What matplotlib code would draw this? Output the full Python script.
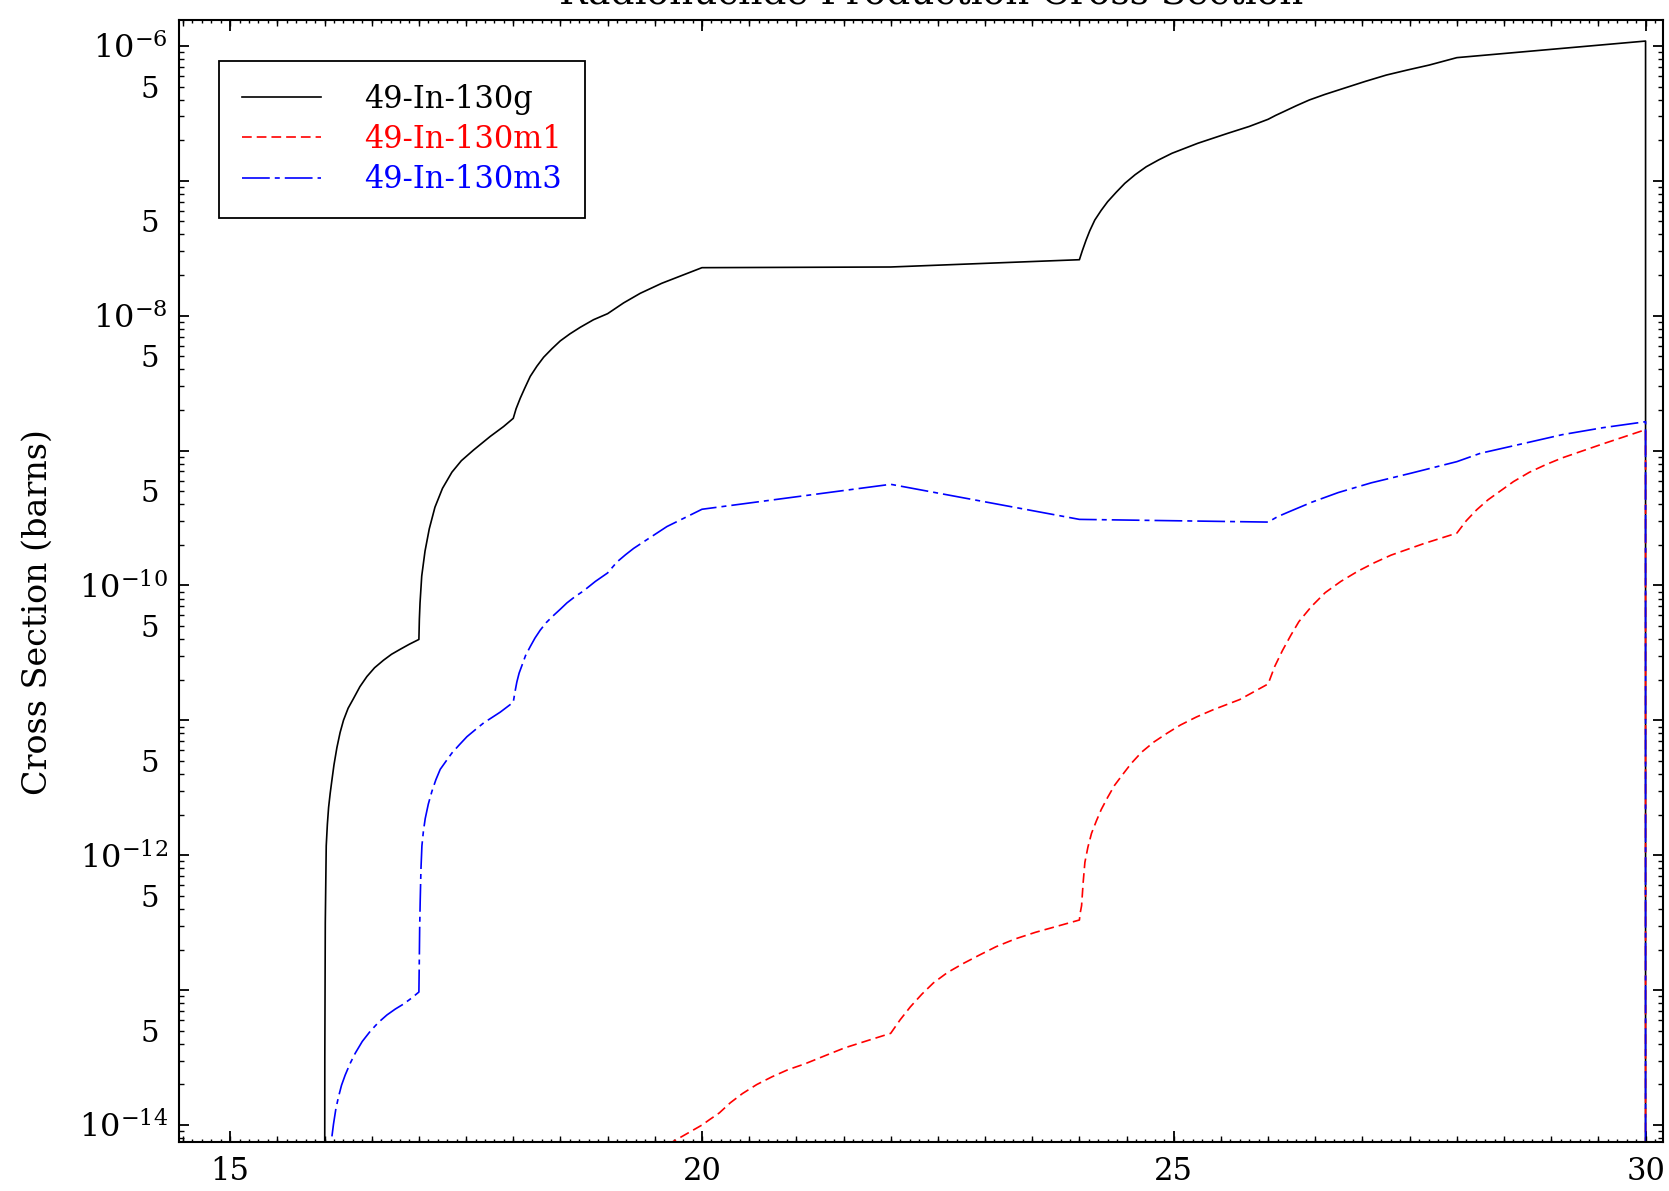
import numpy as np
import matplotlib
matplotlib.use('Agg')
import matplotlib.pyplot as plt
from matplotlib.ticker import FixedLocator, FuncFormatter, MultipleLocator

# incident energy (MeV) and log10 of cross section (barns)
g_x = [16.0, 16.003, 16.008, 16.018, 16.03, 16.043, 16.06, 16.078, 16.1, 16.131, 16.165, 16.201,
       16.25, 16.307, 16.375, 16.449, 16.53, 16.625, 16.71, 16.802, 16.9, 17.0,
       17.005, 17.012, 17.03, 17.065, 17.11, 17.17, 17.25, 17.35, 17.45, 17.579, 17.756, 17.897, 18.0,
       18.03, 18.074, 18.12, 18.18, 18.25, 18.322, 18.41, 18.498, 18.6, 18.71, 18.85, 19.0,
       19.17, 19.346, 19.573, 19.801, 20.0, 22.0, 24.0,
       24.03, 24.071, 24.11, 24.163, 24.23, 24.299, 24.39, 24.481, 24.59, 24.708, 24.84, 24.981,
       25.254, 25.572, 25.8, 26.0,
       26.08, 26.163, 26.3, 26.436, 26.6, 26.799, 27.03, 27.253, 27.48, 27.707, 28.0, 30.0, 30.0]
g_log = [-16.0, -13.5, -12.5, -11.93, -11.77, -11.646, -11.54, -11.444, -11.33, -11.202, -11.09, -10.999,
         -10.91, -10.838, -10.75, -10.675, -10.61, -10.554, -10.51, -10.473, -10.435, -10.40,
         -10.25, -10.13, -9.93, -9.745, -9.58, -9.42, -9.28, -9.16, -9.075, -8.996, -8.895, -8.822, -8.761,
         -8.69, -8.612, -8.54, -8.45, -8.375, -8.308, -8.245, -8.187, -8.135, -8.086, -8.03, -7.985,
         -7.905, -7.834, -7.76, -7.698, -7.644, -7.639, -7.585,
         -7.52, -7.439, -7.37, -7.291, -7.22, -7.155, -7.085, -7.019, -6.955, -6.896, -6.845, -6.796,
         -6.722, -6.648, -6.597, -6.544,
         -6.515, -6.488, -6.443, -6.401, -6.36, -6.315, -6.263, -6.216, -6.178, -6.142, -6.087, -5.964, -16.0]

m1_x = [19.5, 20.0, 20.08, 20.184, 20.3, 20.428, 20.58, 20.743, 20.91, 21.092, 21.3, 21.511, 21.75, 22.0,
        22.1, 22.208, 22.33, 22.453, 22.6, 22.767, 22.94, 23.116, 23.32, 23.535, 23.77, 24.0,
        24.008, 24.023, 24.04, 24.058, 24.09, 24.128, 24.18, 24.232, 24.3, 24.372, 24.46, 24.547,
        24.66, 24.79, 24.93, 25.069, 25.24, 25.418, 25.698, 26.0,
        26.07, 26.152, 26.24, 26.326, 26.46, 26.605, 26.77, 26.954, 27.13, 27.303, 27.652, 28.0,
        28.1, 28.21, 28.33, 28.454, 28.6, 28.768, 28.94, 29.117, 29.536, 30.0, 30.0]
m1_log = [-14.2, -14.0, -13.96, -13.91, -13.835, -13.767, -13.70, -13.642, -13.59, -13.546, -13.487, -13.428, -13.375, -13.32,
          -13.22, -13.124, -13.03, -12.946, -12.87, -12.803, -12.74, -12.678, -12.62, -12.571, -12.525, -12.48,
          -12.43, -12.374, -12.2, -12.053, -11.94, -11.838, -11.745, -11.66, -11.57, -11.482, -11.4, -11.321,
          -11.235, -11.16, -11.095, -11.035, -10.975, -10.921, -10.846, -10.73,
          -10.6, -10.482, -10.37, -10.268, -10.155, -10.053, -9.97, -9.893, -9.83, -9.775, -9.689, -9.612,
          -9.52, -9.439, -9.365, -9.303, -9.23, -9.161, -9.105, -9.054, -8.953, -8.845, -16.0]

m3_x = [16.04, 16.07, 16.095, 16.12, 16.148, 16.18, 16.219, 16.27, 16.325, 16.4, 16.484, 16.57,
        16.661, 16.75, 16.837, 16.92, 17.0,
        17.004, 17.008, 17.014, 17.022, 17.032, 17.048, 17.067, 17.1, 17.138, 17.18, 17.226, 17.29,
        17.35, 17.43, 17.509, 17.6, 17.686, 17.862, 18.0,
        18.018, 18.038, 18.062, 18.091, 18.13, 18.18, 18.23, 18.286, 18.35, 18.427, 18.5, 18.569,
        18.65, 18.745, 18.87, 19.0,
        19.099, 19.19, 19.276, 19.452, 19.629, 19.806, 20.0, 22.0, 24.0, 26.0,
        26.1, 26.22, 26.465, 26.744, 27.093, 27.512, 28.0, 28.25, 28.559, 29.117, 29.55, 30.0, 30.0]
m3_log = [-14.4, -14.13, -13.993, -13.88, -13.791, -13.705, -13.629, -13.545, -13.468, -13.38, -13.305, -13.24,
          -13.184, -13.14, -13.103, -13.06, -13.014,
          -12.8, -12.55, -12.334, -12.1, -11.93, -11.82, -11.728, -11.62, -11.526, -11.44, -11.363, -11.3,
          -11.242, -11.18, -11.121, -11.068, -11.019, -10.939, -10.866,
          -10.79, -10.716, -10.65, -10.595, -10.52, -10.453, -10.39, -10.331, -10.275, -10.222, -10.175, -10.129,
          -10.085, -10.04, -9.97, -9.907,
          -9.826, -9.772, -9.725, -9.644, -9.563, -9.502, -9.435, -9.25, -9.51, -9.53,
          -9.49, -9.454, -9.382, -9.311, -9.239, -9.168, -9.082, -9.02, -8.971, -8.882, -8.83, -8.786, -16.0]

plt.rcParams['font.family'] = ['DejaVu Serif']
plt.rcParams['mathtext.fontset'] = 'dejavuserif'
plt.rcParams['lines.scale_dashes'] = False

fig = plt.figure(figsize=(16.69, 11.91), dpi=100)
ax = fig.add_axes([0.1071, 0.0411, 0.8896, 0.9421])

ax.plot(g_x, np.power(10.0, g_log), color='black', lw=1.2, label='49-In-130g')
ax.plot(m1_x, np.power(10.0, m1_log), color='red', lw=1.2, ls=(0, (7, 3.6)), label='49-In-130m1')
ax.plot(m3_x, np.power(10.0, m3_log), color='blue', lw=1.2, ls=(0, (20, 3.6, 3.6, 3.6)), label='49-In-130m3')

ax.set_yscale('log')
ax.set_xlim(14.455, 30.19)
ax.set_ylim(10 ** -14.126, 10 ** -5.808)

# medium x ticks every 0.5 (twin axis, only ticks)
ax2 = ax.twiny()
ax2.set_xlim(ax.get_xlim())
ax2.xaxis.set_major_locator(MultipleLocator(0.5))
ax2.xaxis.set_minor_locator(FixedLocator([]))
ax2.tick_params(axis='x', which='major', direction='in', length=4.3, width=1.0,
                bottom=True, top=True, labelbottom=False, labeltop=False)
for s in ax2.spines.values():
    s.set_visible(False)

decades = 10.0 ** np.arange(-15, -4)
ax.yaxis.set_major_locator(FixedLocator(decades))
ax.yaxis.set_major_formatter(FuncFormatter(
    lambda v, p: r'$10^{%d}$' % round(np.log10(v)) if round(np.log10(v)) % 2 == 0 else ''))
ax.yaxis.set_minor_locator(FixedLocator([d * k for d in decades for k in range(2, 10)]))
ax.yaxis.set_minor_formatter(FuncFormatter(
    lambda v, p: '5' if abs(v / 10 ** np.floor(np.log10(v) + 1e-9) - 5) < 0.01 else ''))

ax.xaxis.set_major_locator(MultipleLocator(5))
ax.xaxis.set_minor_locator(MultipleLocator(0.1))

ax.tick_params(which='both', direction='in', top=True, right=True, bottom=True, left=True)
ax.tick_params(axis='x', which='major', length=8, width=1.3, pad=10, labelsize=22)
ax.tick_params(axis='x', which='minor', length=2.5, width=1.0)
ax.tick_params(axis='y', which='major', length=7, width=1.3, pad=8, labelsize=23)
ax.tick_params(axis='y', which='minor', length=3.6, width=1.0, pad=14, labelsize=21)
for s in ax.spines.values():
    s.set_linewidth(1.5)

ax.set_ylabel('Cross Section (barns)', fontsize=24)
ax.yaxis.set_label_coords(-0.0843, 0.472)

leg = ax.legend(loc='upper left', bbox_to_anchor=(0.0271, 0.9635), borderaxespad=0,
                fancybox=False, edgecolor='black', framealpha=1, fontsize=22,
                handlelength=2.6, handletextpad=1.4, borderpad=0.75, labelspacing=0.3,
                labelcolor='linecolor')
leg.get_frame().set_linewidth(1.3)

fig.text(0.558, 1 - 4 / 1191, 'Radionuclide Production Cross Section', ha='center',
         va='baseline', fontsize=27)

fig.savefig('out.png', dpi=100)
